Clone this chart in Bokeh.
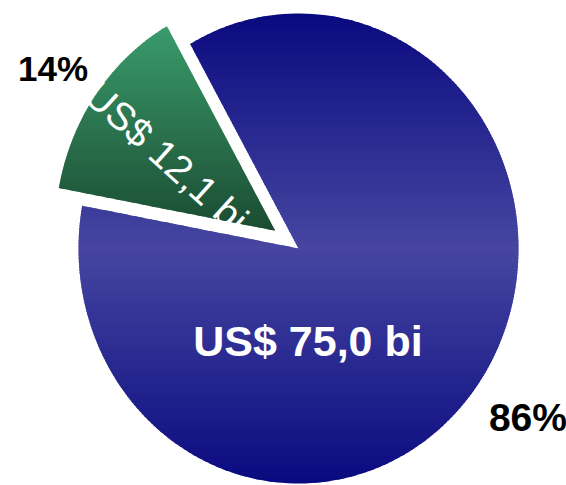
import math
from bokeh.plotting import figure
from bokeh.models import Range1d
from bokeh.core.properties import value
from bokeh.embed import file_html
from bokeh.resources import INLINE

# ---- data ----
categories = ["Blue", "Green"]
values = [75.0, 12.1]
value_labels = ["US$ 75,0 bi", "US$ 12,1 bi"]
pct_labels = ["86%", "14%"]

# ---- layout / style ----
W, H = 566, 485
CX_PX, CY_PX = 298, 248          # pie centre in figure pixels (from top-left)
RX_PX, RY_PX = 220, 235          # pixel size of one data unit
START_DEG = 119.5                # start angle of green slice (counter-clockwise)
EXPLODE = 0.13                   # explode distance of green slice (data units)

BLUE_EDGE = (10, 10, 128)
BLUE_MID = (70, 70, 161)
GREEN_TOP = (58, 155, 107)
GREEN_BOT = (27, 76, 50)

p = figure(width=W, height=H,
           x_range=Range1d(-CX_PX / RX_PX, (W - CX_PX) / RX_PX),
           y_range=Range1d(-(H - CY_PX) / RY_PX, CY_PX / RY_PX),
           output_backend="svg", toolbar_location=None, min_border=0,
           x_axis_type=None, y_axis_type=None)
p.grid.visible = False
p.outline_line_color = None
p.background_fill_color = "white"
p.border_fill_color = "white"

total = sum(values)
green_span = 360.0 * values[1] / total
g0, g1 = START_DEG, START_DEG + green_span
b0, b1 = g1, START_DEG + 360.0


def slice_poly(cx, cy, a0, a1, n=240):
    pts = [(cx, cy)]
    steps = max(8, int(n * (a1 - a0) / 360.0))
    for i in range(steps + 1):
        a = math.radians(a0 + (a1 - a0) * i / steps)
        pts.append((cx + math.cos(a), cy + math.sin(a)))
    return pts


def clip(poly, yc, above):
    out = []
    n = len(poly)
    for i in range(n):
        cur, prev = poly[i], poly[i - 1]
        cin = cur[1] >= yc if above else cur[1] <= yc
        pin = prev[1] >= yc if above else prev[1] <= yc
        if cin != pin:
            t = (yc - prev[1]) / (cur[1] - prev[1])
            out.append((prev[0] + t * (cur[0] - prev[0]), yc))
        if cin:
            out.append(cur)
    return out


def hexc(c):
    return "#%02x%02x%02x" % tuple(int(round(v)) for v in c)


def lerp(c1, c2, t):
    return tuple(a + (b - a) * t for a, b in zip(c1, c2))


def bands(poly, colfun, nb):
    ys = [pt[1] for pt in poly]
    ymin, ymax = min(ys), max(ys)
    h = (ymax - ymin) / nb
    xs_out, ys_out, cols = [], [], []
    for i in range(nb):
        top = ymax - i * h
        bot = top - h - (h * 0.6 if i < nb - 1 else 0)
        piece = clip(clip(poly, bot, True), top, False)
        if len(piece) < 3:
            continue
        xs_out.append([q[0] for q in piece])
        ys_out.append([q[1] for q in piece])
        cols.append(hexc(colfun((top - h / 2 - ymin) / (ymax - ymin), top - h / 2)))
    return xs_out, ys_out, cols


# blue slice (mirrored vertical gradient around centre)
blue_poly = slice_poly(0.0, 0.0, b0, b1)
bx, by, bc = bands(blue_poly, lambda t, y: lerp(BLUE_MID, BLUE_EDGE, min(1.0, abs(y))), 160)
p.patches(xs=bx, ys=by, fill_color=bc, line_color=None)

# green slice, exploded
mid = math.radians((g0 + g1) / 2)
gcx, gcy = EXPLODE * math.cos(mid), EXPLODE * math.sin(mid)
green_poly = slice_poly(gcx, gcy, g0, g1)
gx, gy, gc = bands(green_poly, lambda t, y: lerp(GREEN_BOT, GREEN_TOP, t), 90)
p.patches(xs=gx, ys=gy, fill_color=gc, line_color=None)

# value labels
p.text(x=[0.043], y=[-0.395], text=[value_labels[0]],
       text_font=value("Liberation Sans"), text_font_style="bold",
       text_font_size="43px", text_color="white",
       text_align="center", text_baseline="alphabetic")
p.text(x=[-0.60], y=[0.39], text=[value_labels[1]],
       text_font=value("Liberation Sans"), text_font_style="normal",
       text_font_size="39px", text_color="white",
       text_align="center", text_baseline="middle", angle=[math.radians(-42)])

# percentage labels
p.text(x=[1.043], y=[-0.72], text=[pct_labels[0]],
       text_font=value("Liberation Sans"), text_font_style="bold",
       text_font_size="39px", text_color="black",
       text_align="center", text_baseline="alphabetic")
p.text(x=[-1.116], y=[0.768], text=[pct_labels[1]],
       text_font=value("Liberation Sans"), text_font_style="bold",
       text_font_size="35px", text_color="black",
       text_align="center", text_baseline="alphabetic")

open("out.html", "w").write(file_html(p, INLINE))
